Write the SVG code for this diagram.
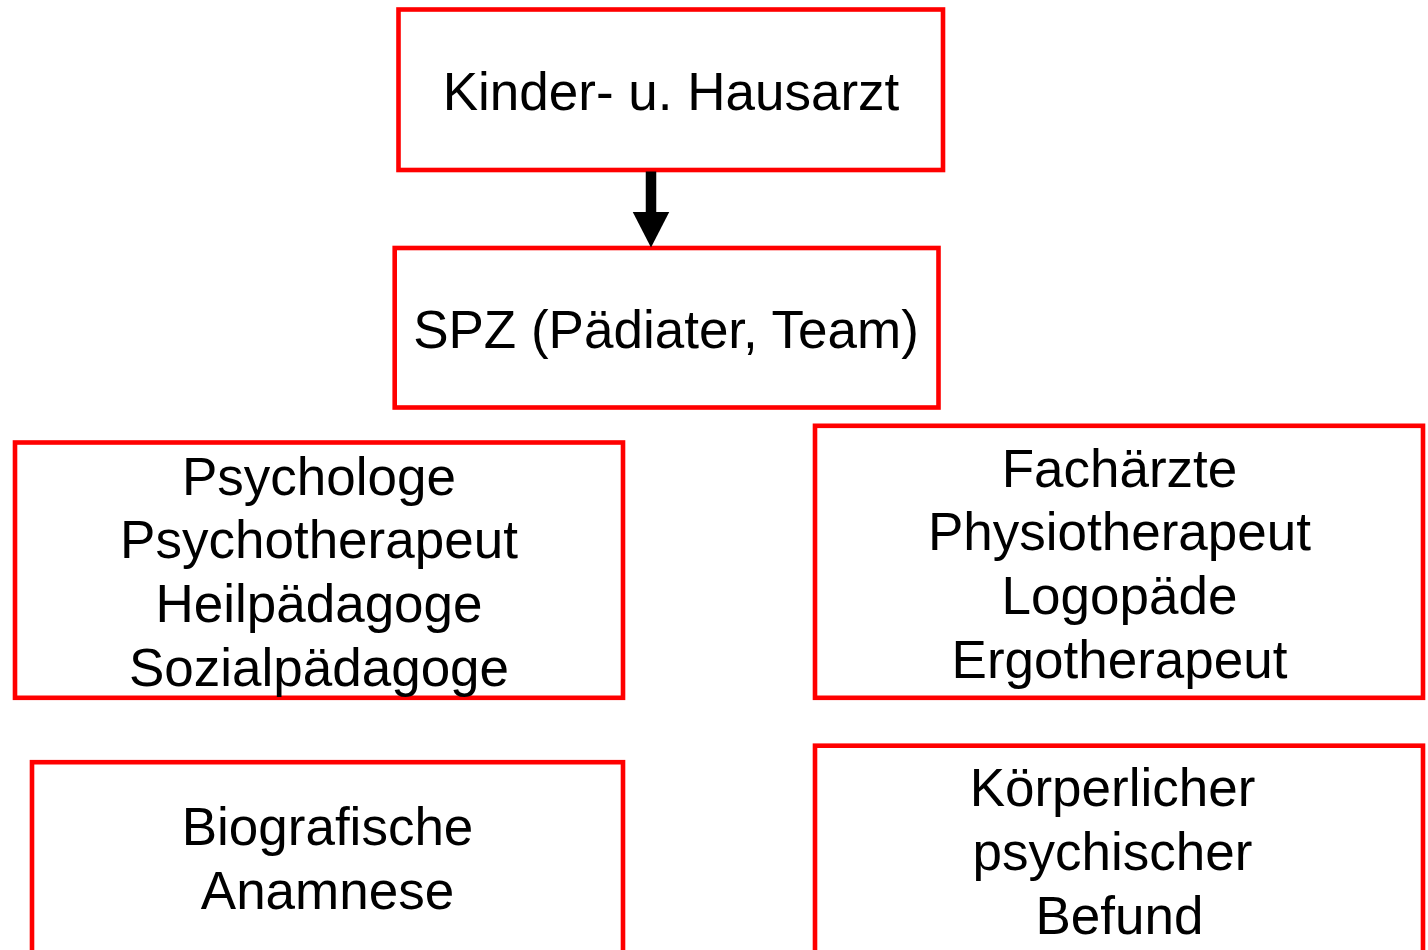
<svg xmlns="http://www.w3.org/2000/svg" width="1428" height="950" viewBox="0 0 1428 950">
  <style>
    .box { fill: #ffffff; stroke: #ff0000; stroke-width: 4.6; }
    .lbl { font-family: "Liberation Sans", Arial, sans-serif; font-size: 53px; fill: #000000; text-anchor: middle; }
    .conn { stroke: #000000; stroke-width: 10.5; fill: none; }
  </style>
  <defs>
    <marker id="head" markerUnits="userSpaceOnUse" markerWidth="40" markerHeight="40" refX="1.5" refY="18.5" orient="auto">
      <path d="M0,0 L36,18.5 L0,37 z" fill="#000000"/>
    </marker>
  </defs>
  <rect x="0" y="0" width="1428" height="950" fill="#ffffff"/>

  <g id="n-hausarzt">
    <rect class="box" x="398.5" y="9.5" width="544.5" height="160.5"/>
    <text class="lbl" x="671" y="110">Kinder- u. Hausarzt</text>
  </g>

  <g id="n-spz">
    <rect class="box" x="394.7" y="248" width="543.8" height="159.5"/>
    <text class="lbl" x="666" y="348">SPZ (Pädiater, Team)</text>
  </g>

  <g id="n-psych">
    <rect class="box" x="15" y="442.5" width="608" height="255.3"/>
    <text class="lbl" x="319" y="494.5">Psychologe</text>
    <text class="lbl" x="319" y="558">Psychotherapeut</text>
    <text class="lbl" x="319" y="622">Heilpädagoge</text>
    <text class="lbl" x="319" y="685.5">Sozialpädagoge</text>
  </g>

  <g id="n-fach">
    <rect class="box" x="815" y="425.8" width="608" height="272"/>
    <text class="lbl" x="1119.5" y="486.5">Fachärzte</text>
    <text class="lbl" x="1119.5" y="550">Physiotherapeut</text>
    <text class="lbl" x="1119.5" y="614">Logopäde</text>
    <text class="lbl" x="1119.5" y="677.5">Ergotherapeut</text>
  </g>

  <g id="n-anamnese">
    <rect class="box" x="32" y="762.2" width="591" height="260"/>
    <text class="lbl" x="327.5" y="845">Biografische</text>
    <text class="lbl" x="327.5" y="909">Anamnese</text>
  </g>

  <g id="n-befund">
    <rect class="box" x="815" y="745.7" width="608" height="260"/>
    <text class="lbl" x="1112.5" y="806">Körperlicher</text>
    <text class="lbl" x="1112.5" y="870">psychischer</text>
    <text class="lbl" x="1119.5" y="934">Befund</text>
  </g>

  <g id="connectors">
    <line class="conn" x1="651" y1="171.5" x2="651" y2="213" marker-end="url(#head)"/>
  </g>
</svg>
